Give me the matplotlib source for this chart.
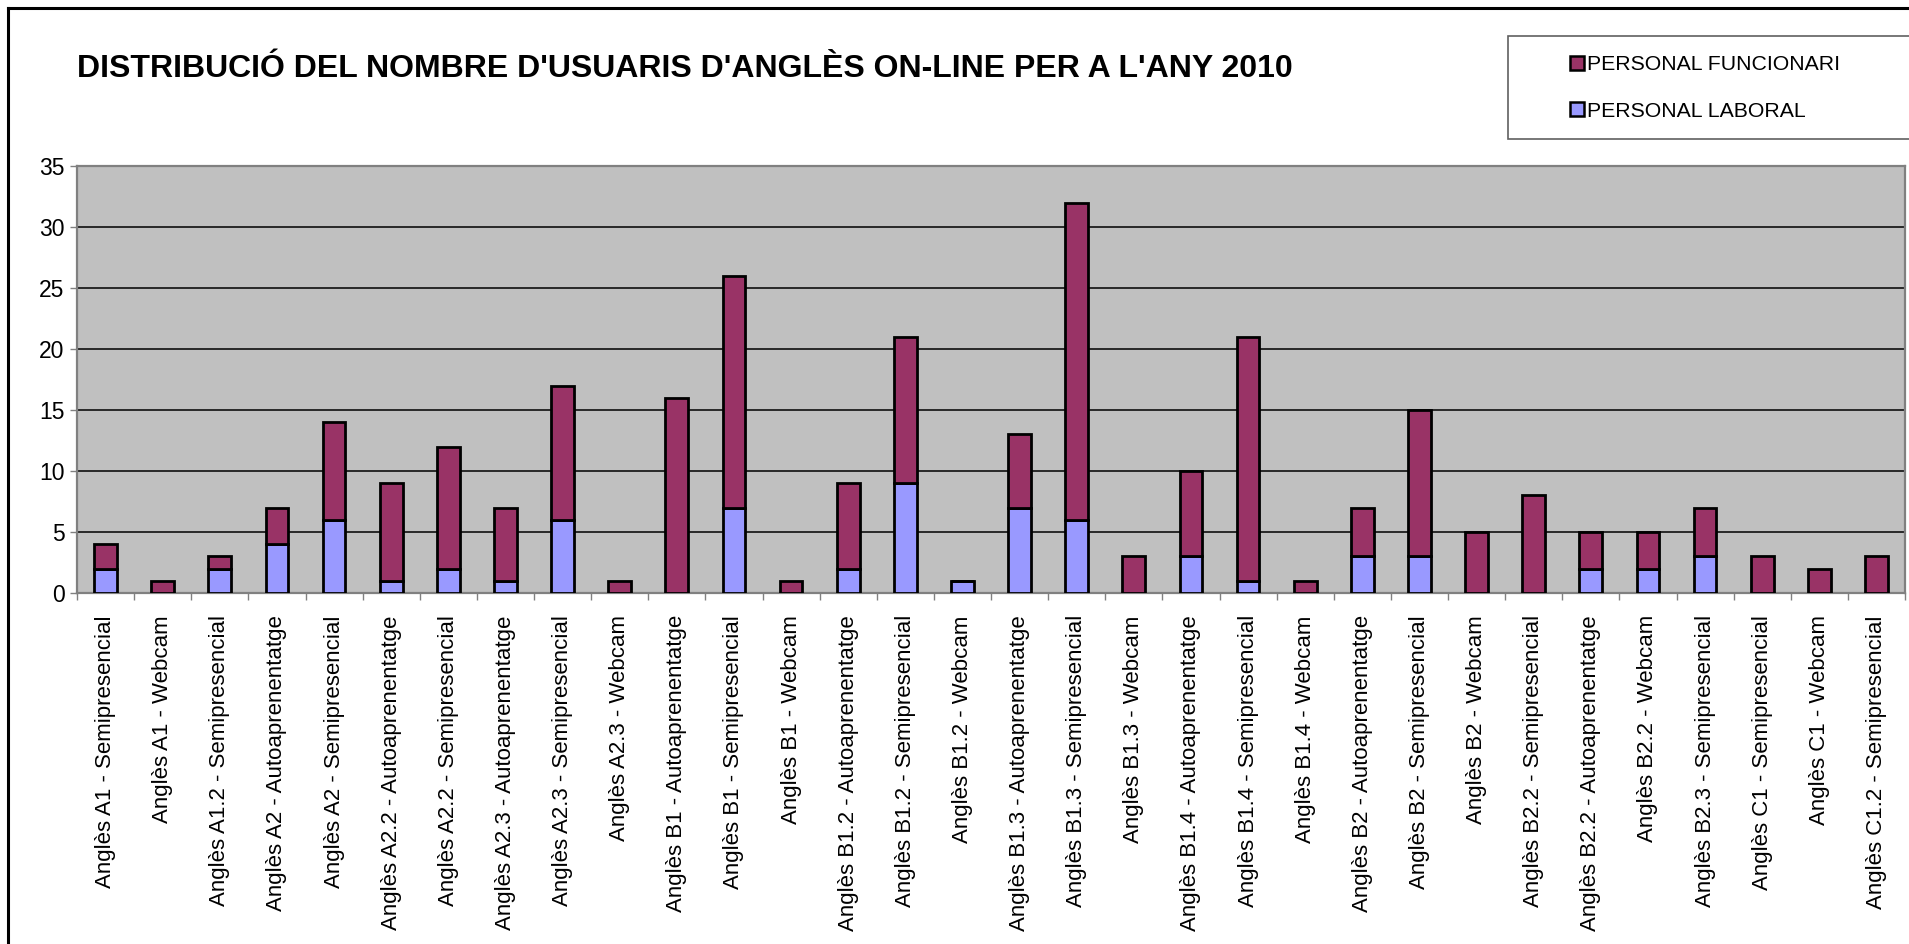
import matplotlib
matplotlib.use("Agg")
import matplotlib.pyplot as plt
from matplotlib.patches import Patch, Rectangle
from matplotlib.lines import Line2D
import numpy as np

plt.rcParams["font.family"] = ["Liberation Sans", "DejaVu Sans"]

# course names on the x axis
courses = [
    "Anglès A1 - Semipresencial",
    "Anglès A1 - Webcam",
    "Anglès A1.2 - Semipresencial",
    "Anglès A2 - Autoaprenentatge",
    "Anglès A2 - Semipresencial",
    "Anglès A2.2 - Autoaprenentatge",
    "Anglès A2.2 - Semipresencial",
    "Anglès A2.3 - Autoaprenentatge",
    "Anglès A2.3 - Semipresencial",
    "Anglès A2.3 - Webcam",
    "Anglès B1 - Autoaprenentatge",
    "Anglès B1 - Semipresencial",
    "Anglès B1 - Webcam",
    "Anglès B1.2 - Autoaprenentatge",
    "Anglès B1.2 - Semipresencial",
    "Anglès B1.2 - Webcam",
    "Anglès B1.3 - Autoaprenentatge",
    "Anglès B1.3 - Semipresencial",
    "Anglès B1.3 - Webcam",
    "Anglès B1.4 - Autoaprenentatge",
    "Anglès B1.4 - Semipresencial",
    "Anglès B1.4 - Webcam",
    "Anglès B2 - Autoaprenentatge",
    "Anglès B2 - Semipresencial",
    "Anglès B2 - Webcam",
    "Anglès B2.2 - Semipresencial",
    "Anglès B2.2 - Autoaprenentatge",
    "Anglès B2.2 - Webcam",
    "Anglès B2.3 - Semipresencial",
    "Anglès C1 - Semipresencial",
    "Anglès C1 - Webcam",
    "Anglès C1.2 - Semipresencial",
]

# bottom segment
laboral = [2, 0, 2, 4, 6, 1, 2, 1, 6, 0, 0, 7, 0, 2, 9, 1,
           7, 6, 0, 3, 1, 0, 3, 3, 0, 0, 2, 2, 3, 0, 0, 0]
# top segment
funcionari = [2, 1, 1, 3, 8, 8, 10, 6, 11, 1, 16, 19, 1, 7, 12, 0,
              6, 26, 3, 7, 20, 1, 4, 12, 5, 8, 3, 3, 4, 3, 2, 3]

y_ticks = [0, 5, 10, 15, 20, 25, 30, 35]

title = "DISTRIBUCIÓ DEL NOMBRE D'USUARIS D'ANGLÈS ON-LINE PER A L'ANY 2010"
label_func = "PERSONAL FUNCIONARI"
label_lab = "PERSONAL LABORAL"

col_func = "#993366"
col_lab = "#9999FF"

W, H = 1909, 944
fig = plt.figure(figsize=(W / 100, H / 100), dpi=100)
fig.patch.set_facecolor("white")

# plot area in pixel terms
left, right, top, bottom = 77, 1905, 166, 593
ax = fig.add_axes([left / W, 1 - bottom / H, (right - left) / W, (bottom - top) / H])
ax.set_facecolor("#C0C0C0")

x = np.arange(len(courses))
ax.bar(x, laboral, width=0.4, color=col_lab, edgecolor="black", linewidth=2, zorder=3)
ax.bar(x, funcionari, width=0.4, bottom=laboral, color=col_func, edgecolor="black",
       linewidth=2, zorder=3)

ax.set_xlim(-0.5, len(courses) - 0.5)
ax.set_ylim(0, 35)
ax.set_yticks(y_ticks)
ax.yaxis.grid(True, color="black", linewidth=1.1, zorder=1)
ax.set_axisbelow(True)

ax.set_xticks(x)
ax.set_xticklabels(courses, rotation=90, fontsize=16, va="top", ha="center")
ax.set_xticks(np.arange(-0.5, len(courses)), minor=True)
ax.tick_params(axis="x", which="major", length=0, pad=16)
ax.tick_params(axis="x", which="minor", length=5, width=1, color="#808080", direction="out")
ax.tick_params(axis="y", length=5, width=1, color="#808080", labelsize=16.5, pad=4)

for s in ax.spines.values():
    s.set_color("#808080")
    s.set_linewidth(1.6)

# title
fig.text(left / W, 1 - 69 / H, title, fontsize=23, fontweight="bold",
         va="center", ha="left")

# legend box
fig.add_artist(Rectangle((1508 / W, 1 - 139 / H), 420 / W, 103 / H,
                         transform=fig.transFigure, facecolor="white",
                         edgecolor="#606060", linewidth=1.2))
handles = [
    Patch(facecolor=col_func, edgecolor="black", linewidth=1.8, label=label_func),
    Patch(facecolor=col_lab, edgecolor="black", linewidth=1.8, label=label_lab),
]
fig.legend(handles=handles, loc="center left", bbox_to_anchor=(1570 / W, 1 - 88 / H),
           frameon=False, fontsize=15.3, handlelength=0.65, handleheight=0.65,
           handletextpad=0.15, labelspacing=1.3, borderaxespad=0, borderpad=0)

# outer chart border (top and left)
fig.add_artist(Line2D([8 / W, 8 / W], [0, 1 - 8 / H], transform=fig.transFigure,
                      color="black", linewidth=2.2))
fig.add_artist(Line2D([8 / W, 1], [1 - 8 / H, 1 - 8 / H], transform=fig.transFigure,
                      color="black", linewidth=2.2))

fig.savefig("out.png", dpi=100)
